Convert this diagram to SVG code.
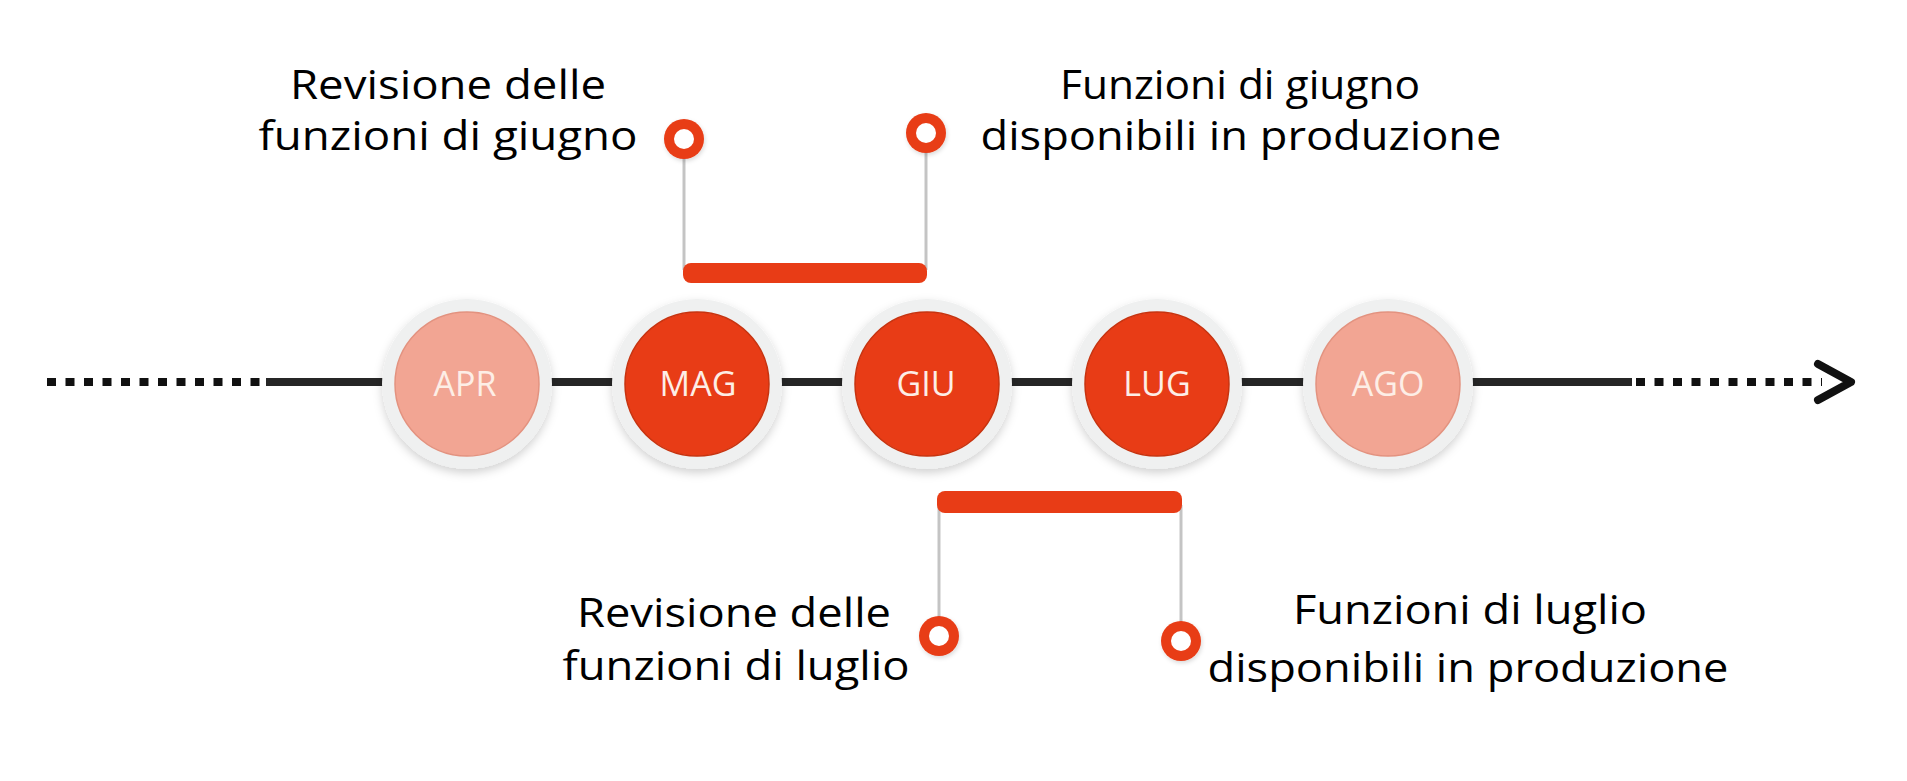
<svg xmlns="http://www.w3.org/2000/svg" width="1907" height="781" viewBox="0 0 1907 781">
  <defs>
    <filter id="shadow" x="-30%" y="-30%" width="160%" height="170%">
      <feDropShadow dx="0" dy="4" stdDeviation="5" flood-color="#000" flood-opacity="0.18"/>
    </filter>
    <filter id="pinShadow" x="-50%" y="-50%" width="200%" height="200%">
      <feDropShadow dx="1" dy="2" stdDeviation="2" flood-color="#000" flood-opacity="0.15"/>
    </filter>
  </defs>
  <style>
    .label { font-family: "Open Sans", "Noto Sans", "Liberation Sans", sans-serif; font-size: 40px; fill: #000000; text-anchor: middle; }
    .month { font-family: "Open Sans", "Noto Sans", "Liberation Sans", sans-serif; font-size: 34px; fill: #fdeee6; text-anchor: middle; }
    .ring { fill: #eff0f0; filter: url(#shadow); }
    .light { fill: #f2a593; stroke: #e3927f; stroke-width: 1.5; }
    .dark { fill: #e83c16; stroke: #c7330f; stroke-width: 1.5; }
    .bar { fill: #e83c16; }
    .stem { stroke: #c4c4c4; stroke-width: 3; fill: none; }
    .pin { fill: #e83c16; filter: url(#pinShadow); }
    .pinhole { fill: #ffffff; }
    .axis { stroke: #262626; stroke-width: 8; fill: none; }
    .dots { stroke: #111111; stroke-width: 8; stroke-dasharray: 9 9.5; fill: none; }
  </style>

  <g id="connectors">
    <line class="dots" x1="47" y1="382" x2="269" y2="382"/>
    <line class="axis" x1="266" y1="382" x2="1632" y2="382"/>
    <line class="dots" x1="1636" y1="382" x2="1822" y2="382"/>
    <polyline points="1818,364 1851,382 1818,400" fill="none" stroke="#111111" stroke-width="8" stroke-linecap="round" stroke-linejoin="round"/>
    <line class="stem" x1="684" y1="139" x2="684" y2="270"/>
    <line class="stem" x1="926" y1="133" x2="926" y2="270"/>
    <line class="stem" x1="939" y1="505" x2="939" y2="636"/>
    <line class="stem" x1="1181" y1="505" x2="1181" y2="641"/>
  </g>

  <g id="node-apr">
    <circle class="ring" cx="467" cy="384" r="85"/>
    <circle class="light" cx="467" cy="384" r="72"/>
    <text class="month" x="465" y="396">APR</text>
  </g>
  <g id="node-mag">
    <circle class="ring" cx="697" cy="384" r="85"/>
    <circle class="dark" cx="697" cy="384" r="72"/>
    <text class="month" x="698" y="396">MAG</text>
  </g>
  <g id="node-giu">
    <circle class="ring" cx="927" cy="384" r="85"/>
    <circle class="dark" cx="927" cy="384" r="72"/>
    <text class="month" x="926" y="396">GIU</text>
  </g>
  <g id="node-lug">
    <circle class="ring" cx="1157" cy="384" r="85"/>
    <circle class="dark" cx="1157" cy="384" r="72"/>
    <text class="month" x="1157" y="396">LUG</text>
  </g>
  <g id="node-ago">
    <circle class="ring" cx="1388" cy="384" r="85"/>
    <circle class="light" cx="1388" cy="384" r="72"/>
    <text class="month" x="1388" y="396">AGO</text>
  </g>

  <g id="bar-june">
    <rect class="bar" x="683" y="263" width="244" height="20" rx="8"/>
  </g>
  <g id="bar-july">
    <rect class="bar" x="937" y="491" width="245" height="22" rx="8"/>
  </g>

  <g id="pin-june-review">
    <circle class="pin" cx="684" cy="139" r="20"/>
    <circle class="pinhole" cx="684" cy="139" r="10"/>
  </g>
  <g id="pin-june-release">
    <circle class="pin" cx="926" cy="133" r="20"/>
    <circle class="pinhole" cx="926" cy="133" r="10"/>
  </g>
  <g id="pin-july-review">
    <circle class="pin" cx="939" cy="636" r="20"/>
    <circle class="pinhole" cx="939" cy="636" r="10"/>
  </g>
  <g id="pin-july-release">
    <circle class="pin" cx="1181" cy="641" r="20"/>
    <circle class="pinhole" cx="1181" cy="641" r="10"/>
  </g>

  <g id="label-june-review">
    <text class="label" x="448" y="99" textLength="316" lengthAdjust="spacingAndGlyphs">Revisione delle</text>
    <text class="label" x="448" y="150" textLength="379" lengthAdjust="spacingAndGlyphs">funzioni di giugno</text>
  </g>
  <g id="label-june-release">
    <text class="label" x="1240" y="99" textLength="360" lengthAdjust="spacingAndGlyphs">Funzioni di giugno</text>
    <text class="label" x="1241" y="150" textLength="521" lengthAdjust="spacingAndGlyphs">disponibili in produzione</text>
  </g>
  <g id="label-july-review">
    <text class="label" x="734" y="627" textLength="314" lengthAdjust="spacingAndGlyphs">Revisione delle</text>
    <text class="label" x="736" y="680" textLength="347" lengthAdjust="spacingAndGlyphs">funzioni di luglio</text>
  </g>
  <g id="label-july-release">
    <text class="label" x="1470" y="624" textLength="354" lengthAdjust="spacingAndGlyphs">Funzioni di luglio</text>
    <text class="label" x="1468" y="682" textLength="521" lengthAdjust="spacingAndGlyphs">disponibili in produzione</text>
  </g>
</svg>
